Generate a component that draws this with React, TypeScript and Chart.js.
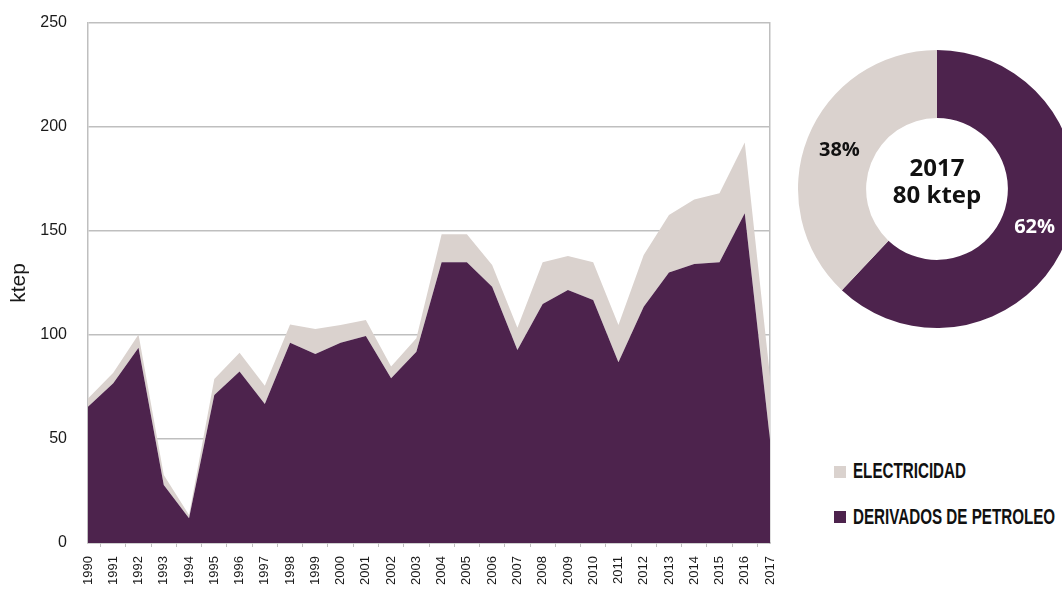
import React, { useEffect, useRef } from "react";
import { Chart, registerables } from "chart.js";

Chart.register(...registerables);

const years = [
  "1990", "1991", "1992", "1993", "1994", "1995", "1996", "1997", "1998", "1999",
  "2000", "2001", "2002", "2003", "2004", "2005", "2006", "2007", "2008", "2009",
  "2010", "2011", "2012", "2013", "2014", "2015", "2016", "2017",
];
const derivados = [
  65.5, 76.8, 93.9, 27.9, 11.9, 71.2, 82.4, 66.8, 96.3, 90.9,
  96.3, 99.5, 79.2, 92.0, 135.0, 135.0, 123.2, 92.8, 114.9, 121.6,
  116.8, 86.9, 113.6, 130.0, 134.1, 135.0, 158.5, 49.6,
];
const electricidad = [
  4.0, 5.1, 6.4, 4.8, 1.6, 7.6, 9.1, 8.8, 8.8, 12.0,
  8.5, 7.7, 5.6, 6.4, 13.4, 13.4, 10.5, 10.7, 20.1, 16.4,
  18.2, 17.9, 24.9, 27.7, 31.1, 33.1, 34.0, 30.4,
];
const yTickValues = [0, 50, 100, 150, 200, 250];
const seriesNames = ["DERIVADOS DE PETROLEO", "ELECTRICIDAD"];
const donutValues = [62, 38];
const donutPctLabels = ["62%", "38%"];
const donutYear = "2017";
const donutTotal = "80 ktep";
const yTitle = "ktep";

const PURPLE = "#4d234d";
const BEIGE = "#dad2ce";
const GRID = "#bfbfbf";
const LIB = "'Liberation Sans', Arial, sans-serif";
const SANS = "'Open Sans', 'Noto Sans', sans-serif";

export default function App() {
  const lineRef = useRef<HTMLCanvasElement | null>(null);
  const donutRef = useRef<HTMLCanvasElement | null>(null);

  useEffect(() => {
    const lineChart = new Chart(lineRef.current as HTMLCanvasElement, {
      type: "line",
      data: {
        labels: years,
        datasets: [
          {
            label: seriesNames[0],
            data: derivados,
            backgroundColor: PURPLE,
            borderColor: "transparent",
            borderWidth: 0,
            pointRadius: 0,
            fill: "origin",
            tension: 0,
          },
          {
            label: seriesNames[1],
            data: electricidad,
            backgroundColor: BEIGE,
            borderColor: "transparent",
            borderWidth: 0,
            pointRadius: 0,
            fill: "-1",
            tension: 0,
          },
        ],
      },
      options: {
        responsive: false,
        animation: false,
        devicePixelRatio: 1,
        layout: { padding: { left: 0, right: 20, top: 23, bottom: 0 } },
        plugins: { legend: { display: false }, tooltip: { enabled: false } },
        scales: {
          x: {
            offset: false,
            grid: {
              display: true,
              drawOnChartArea: false,
              drawTicks: true,
              tickLength: 4,
              offset: true,
              color: GRID,
              lineWidth: 1,
            },
            border: { display: true, color: GRID, width: 1.5 },
            ticks: {
              autoSkip: false,
              maxRotation: 90,
              minRotation: 90,
              padding: 9,
              color: "#1a1a1a",
              font: { family: LIB, size: 13 },
            },
            afterFit: (s: any) => {
              s.height = 49;
              s.paddingLeft = 0;
              s.paddingRight = 0;
            },
          },
          y: {
            stacked: true,
            min: 0,
            max: 250,
            afterBuildTicks: (s: any) => {
              s.ticks = yTickValues.map((v) => ({ value: v }));
            },
            grid: { color: GRID, lineWidth: 1.5, drawTicks: false },
            border: { display: true, color: GRID, width: 1.5 },
            ticks: {
              padding: 21,
              color: "#1a1a1a",
              font: { family: LIB, size: 16 },
            },
            title: {
              display: true,
              text: yTitle,
              color: "#1a1a1a",
              font: { family: LIB, size: 21 },
              padding: { top: 7, bottom: 0 },
            },
            afterFit: (s: any) => {
              s.width = 88;
              s.paddingTop = 0;
              s.paddingBottom = 0;
            },
          },
          y2: {
            position: "right",
            min: 0,
            max: 250,
            grid: { display: false, drawTicks: false },
            border: { display: true, color: GRID, width: 1.5 },
            ticks: { display: false },
            afterFit: (s: any) => {
              s.width = 0;
              s.paddingTop = 0;
              s.paddingBottom = 0;
            },
          },
        },
      },
    });

    const donutText = {
      id: "donutText",
      afterDatasetsDraw(chart: any) {
        const ctx = chart.ctx;
        const meta = chart.getDatasetMeta(0);
        ctx.save();
        ctx.textAlign = "center";
        ctx.textBaseline = "middle";
        ctx.font = `bold 20px ${SANS}`;
        meta.data.forEach((arc: any, i: number) => {
          const p = arc.getCenterPoint();
          ctx.fillStyle = i === 0 ? "#ffffff" : "#111111";
          ctx.fillText(donutPctLabels[i], p.x, p.y);
        });
        const first = meta.data[0];
        const cx = first.x;
        const cy = first.y;
        ctx.fillStyle = "#111111";
        ctx.font = `bold 24px ${SANS}`;
        ctx.textBaseline = "alphabetic";
        ctx.fillText(donutYear, cx, cy - 13);
        ctx.fillText(donutTotal, cx, cy + 14);
        ctx.restore();
      },
    };

    const donutChart = new Chart(donutRef.current as HTMLCanvasElement, {
      type: "doughnut",
      data: {
        labels: seriesNames,
        datasets: [
          {
            data: donutValues,
            backgroundColor: [PURPLE, BEIGE],
            borderWidth: 0,
          },
        ],
      },
      options: {
        responsive: false,
        animation: false,
        devicePixelRatio: 1,
        cutout: "51%",
        layout: { padding: 11 },
        plugins: { legend: { display: false }, tooltip: { enabled: false } },
      },
      plugins: [donutText],
    });

    return () => {
      lineChart.destroy();
      donutChart.destroy();
    };
  }, []);

  const legendText: React.CSSProperties = {
    position: "absolute",
    left: 853,
    fontFamily: LIB,
    fontWeight: "bold",
    fontSize: 22,
    lineHeight: "22px",
    color: "#111",
    whiteSpace: "nowrap",
    transform: "scaleX(0.69)",
    transformOrigin: "0 0",
  };
  const sq: React.CSSProperties = {
    position: "absolute",
    left: 834,
    width: 12,
    height: 12,
  };

  return (
    <div
      style={{
        position: "fixed",
        left: 0,
        top: 0,
        width: 1062,
        height: 592,
        overflow: "hidden",
        background: "#ffffff",
      }}
    >
      <canvas
        ref={lineRef}
        width={790}
        height={592}
        style={{ position: "absolute", left: 0, top: 0, width: 790, height: 592 }}
      />
      <canvas
        ref={donutRef}
        width={300}
        height={300}
        style={{ position: "absolute", left: 787, top: 39, width: 300, height: 300 }}
      />
      <div style={{ ...sq, top: 466, background: BEIGE }} />
      <div style={{ ...legendText, top: 460 }}>{seriesNames[1]}</div>
      <div style={{ ...sq, top: 511, background: PURPLE }} />
      <div style={{ ...legendText, top: 506 }}>{seriesNames[0]}</div>
    </div>
  );
}
